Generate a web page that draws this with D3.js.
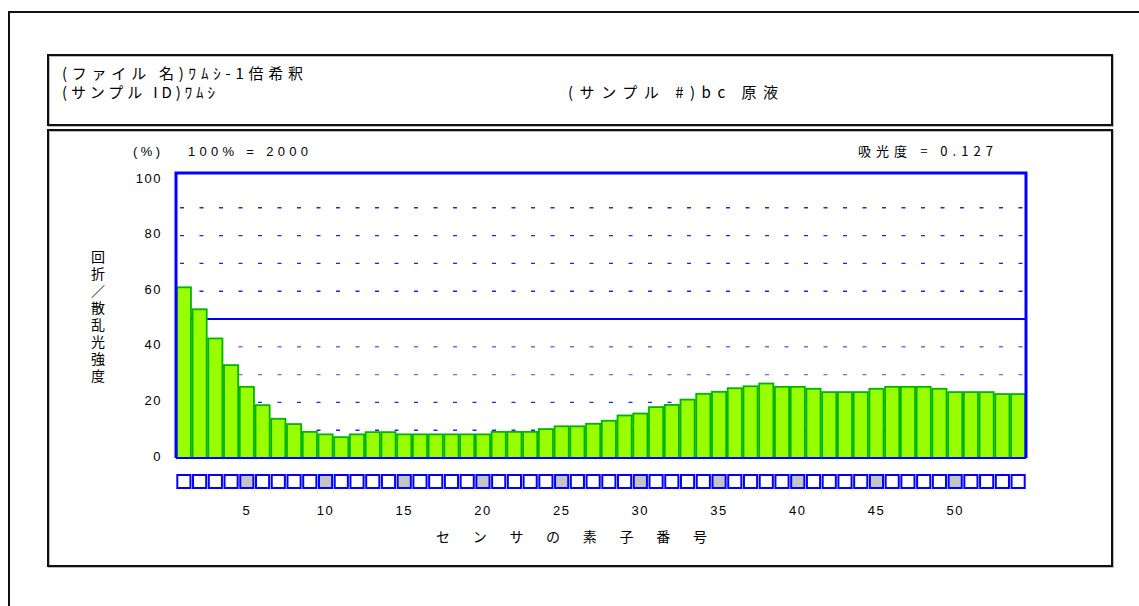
<!DOCTYPE html>
<html><head><meta charset="utf-8">
<script src="https://cdn.jsdelivr.net/npm/d3@7"></script>
<style>
body{margin:0;background:#fff;}
text{font-family:"Liberation Sans",Arial,"Noto Sans CJK JP",sans-serif;fill:#000;}
.jp{font-family:"Noto Sans CJK JP","Liberation Sans",sans-serif;}
.vert{writing-mode:vertical-rl;text-orientation:upright;}
</style>
</head><body>
<svg id="c" width="1139" height="606"></svg>
<script>
// ---- data ----
const sensors = [1,2,3,4,5,6,7,8,9,10,11,12,13,14,15,16,17,18,19,20,21,22,23,24,25,26,27,28,29,30,31,32,33,34,35,36,37,38,39,40,41,42,43,44,45,46,47,48,49,50,51,52,53,54];
const intensity = [61.4,53.5,43.0,33.4,25.6,19.0,14.1,12.2,9.4,8.5,
                   7.5,8.5,9.3,9.3,8.5,8.5,8.5,8.5,8.5,8.5,
                   9.4,9.4,9.4,10.4,11.4,11.4,12.3,13.4,15.3,16.0,
                   18.3,19.1,21.0,23.1,23.8,25.1,25.8,26.8,25.6,25.6,
                   24.9,23.7,23.7,23.7,24.9,25.6,25.6,25.6,24.9,23.7,
                   23.7,23.7,23.0,23.0];
const yTicks = [0,20,40,60,80,100];
const gridVals = [10,20,30,40,60,70,80,90];
const refLine = 50;
const xTickVals = [5,10,15,20,25,30,35,40,45,50];
const markedSensors = [5,10,15,20,25,30,35,40,45,50];
const header1 = "(ファイル 名)ﾜﾑｼ-1倍希釈";
const header2 = "(サンプル ID)ﾜﾑｼ";
const header3 = "(サンプル #)bc  原液";
const unitLabel = "(%)";
const fullScale = "100% = 2000";
const absorbance = "吸光度 = 0.127";
const yTitle = "回折／散乱光強度";
const xTitle = ["セ","ン","サ","の","素","子","番","号"];

// ---- drawing ----
const svg = d3.select("#c");
const blue = "#0000ff";

// outer frames
svg.append("rect").attr("x",9).attr("y",12).attr("width",1300).attr("height",800)
  .attr("fill","none").attr("stroke","#111").attr("stroke-width",2);
function box(x,y,w,h){
  svg.append("rect").attr("x",x+1).attr("y",y+1).attr("width",w).attr("height",h)
    .attr("fill","none").attr("stroke","#bbb").attr("stroke-width",2);
  svg.append("rect").attr("x",x).attr("y",y).attr("width",w).attr("height",h)
    .attr("fill","none").attr("stroke","#111").attr("stroke-width",2);
}
box(48,55,1064,70);
box(48,130,1064,436);

function fitText(cls, x, yy, size, str, len){
  const t = svg.append("text").attr("x",x).attr("y",yy).attr("font-size",size)
    .attr("textLength",len).attr("lengthAdjust","spacing").text(str);
  if (cls) t.attr("class",cls);
  return t;
}
// header texts
fitText("jp",62,79,15,header1,241);
fitText("jp",62,98,15,header2,153);
fitText("jp",568,98,15,header3,210);

const plotL = 176, plotR = 1026, plotB = 458, plotT = 173;
const x = d3.scaleBand().domain(sensors).range([plotL, plotR]).paddingInner(0.1).paddingOuter(0.05);
const xs = d3.scaleBand().domain(sensors).range([plotL, plotR]);
const y = d3.scaleLinear().domain([0,100]).range([plotB, 180]);

// labels above
fitText(null,133,156,13,unitLabel,27);
fitText(null,188,156,13,fullScale,120);
fitText("jp",858,156,13,absorbance,135);

// grid
svg.append("g").selectAll("line").data(gridVals).join("line")
  .attr("x1",plotL+4).attr("x2",plotR).attr("y1",d=>y(d)).attr("y2",d=>y(d))
  .attr("stroke",d=>(d===30||d===40)?"#6a6aff":"#2020ff").attr("stroke-width",1.4)
  .attr("stroke-dasharray","4,15.5");

// reference line
svg.append("line").attr("x1",plotL).attr("x2",plotR).attr("y1",y(refLine)).attr("y2",y(refLine))
  .attr("stroke",blue).attr("stroke-width",2);

// bars
svg.append("g").selectAll("rect").data(sensors).join("rect")
  .attr("x",d=>x(d)).attr("width",x.bandwidth())
  .attr("y",(d,i)=>y(intensity[i])).attr("height",(d,i)=>y(0)-y(intensity[i]))
  .attr("fill","#99ff00").attr("stroke","#00b400").attr("stroke-width",1.8);

// plot frame
svg.append("path").attr("d",`M${plotL},${plotB}V${plotT}H${plotR}V${plotB}`)
  .attr("fill","none").attr("stroke",blue).attr("stroke-width",3);
svg.append("line").attr("x1",plotL).attr("x2",plotR).attr("y1",plotB).attr("y2",plotB)
  .attr("stroke",blue).attr("stroke-width",2);

// y ticks
svg.append("g").selectAll("text").data(yTicks).join("text")
  .attr("x",162).attr("y",d=>y(d)-2).attr("dy","0.35em").attr("text-anchor","end")
  .attr("font-size",13).attr("letter-spacing",1.5).text(d=>d);

// y title: one vertical text element
svg.append("text").attr("class","jp vert").attr("x",98).attr("y",250)
  .attr("font-size",14).attr("letter-spacing",3).text(yTitle);

// sensor boxes
svg.append("g").selectAll("rect").data(sensors).join("rect")
  .attr("x",d=>xs(d)+1.3).attr("width",xs.bandwidth()-2.6)
  .attr("y",475).attr("height",13)
  .attr("fill",d=>markedSensors.includes(d)?"#c4c4c4":"#fff")
  .attr("stroke",blue).attr("stroke-width",2);

// x tick labels
svg.append("g").selectAll("text").data(xTickVals).join("text")
  .attr("x",d=>xs(d)+xs.bandwidth()/2).attr("y",515).attr("text-anchor","middle")
  .attr("font-size",13).attr("letter-spacing",1.5).text(d=>d);

// x title
svg.append("g").selectAll("text").data(xTitle).join("text").attr("class","jp")
  .attr("x",(d,i)=>443+i*36.7).attr("y",542).attr("text-anchor","middle")
  .attr("font-size",14).text(d=>d);
</script>
</body></html>
